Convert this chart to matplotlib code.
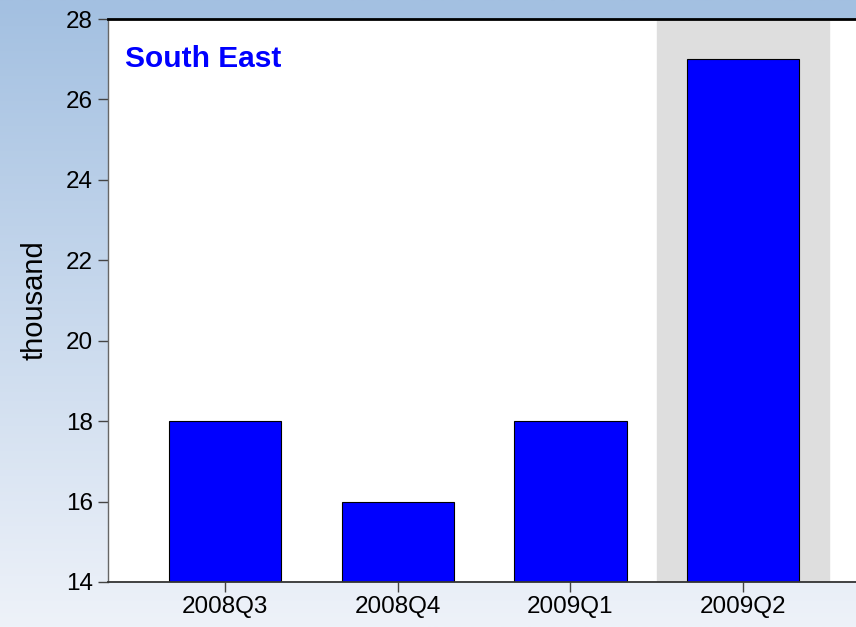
import matplotlib
import numpy as np

matplotlib.use("Agg")
import matplotlib.pyplot as plt
from matplotlib.colors import LinearSegmentedColormap

# data
quarters = ["2008Q3", "2008Q4", "2009Q1", "2009Q2"]
values = [18, 16, 18, 27]
highlight = "2009Q2"
region = "South East"

plt.rcParams["font.family"] = ["Liberation Sans", "DejaVu Sans"]

fig = plt.figure(figsize=(8.56, 6.27), dpi=100)

# vertical gradient behind everything
bg = fig.add_axes([0, 0, 1, 1], zorder=0)
cmap = LinearSegmentedColormap.from_list("bg", ["#eef2f9", "#a3c0e1"])
grad = np.linspace(0, 1, 256)[:, None]
bg.imshow(grad, aspect="auto", cmap=cmap, origin="lower", extent=(0, 1, 0, 1))
bg.axis("off")

ax = fig.add_axes([108 / 856, 45 / 627, 748 / 856, 563 / 627], zorder=1)
x = np.arange(len(quarters))
hi = quarters.index(highlight)
ax.axvspan(hi - 0.5, hi + 0.5, color="#dedede", zorder=0)
ax.bar(x, values, width=0.65, color="#0000ff", edgecolor="black", linewidth=0.8, zorder=2)

ax.set_xlim(-0.678, 3.654)
ax.set_ylim(14, 28)
ax.set_yticks(range(14, 29, 2))
ax.set_xticks(x)
ax.set_xticklabels(quarters)
ax.tick_params(axis="both", direction="out", length=7, width=1, labelsize=17.5, colors="#444444",
               labelcolor="black")
ax.tick_params(axis="y", pad=4)
ax.tick_params(axis="x", pad=3)

ax.set_ylabel("thousand", fontsize=21, labelpad=12)

ax.spines["top"].set_linewidth(2)
ax.spines["top"].set_color("black")
ax.spines["left"].set_color("#666666")
ax.spines["left"].set_linewidth(1)
ax.spines["bottom"].set_color("#333333")
ax.spines["bottom"].set_linewidth(1.3)
ax.spines["right"].set_visible(False)

ax.text(17 / 748, (582 - 67) / 563, region, transform=ax.transAxes, color="#0000ff",
        fontsize=21.5, fontweight="bold", va="baseline", ha="left")

fig.savefig("out.png", dpi=100)
